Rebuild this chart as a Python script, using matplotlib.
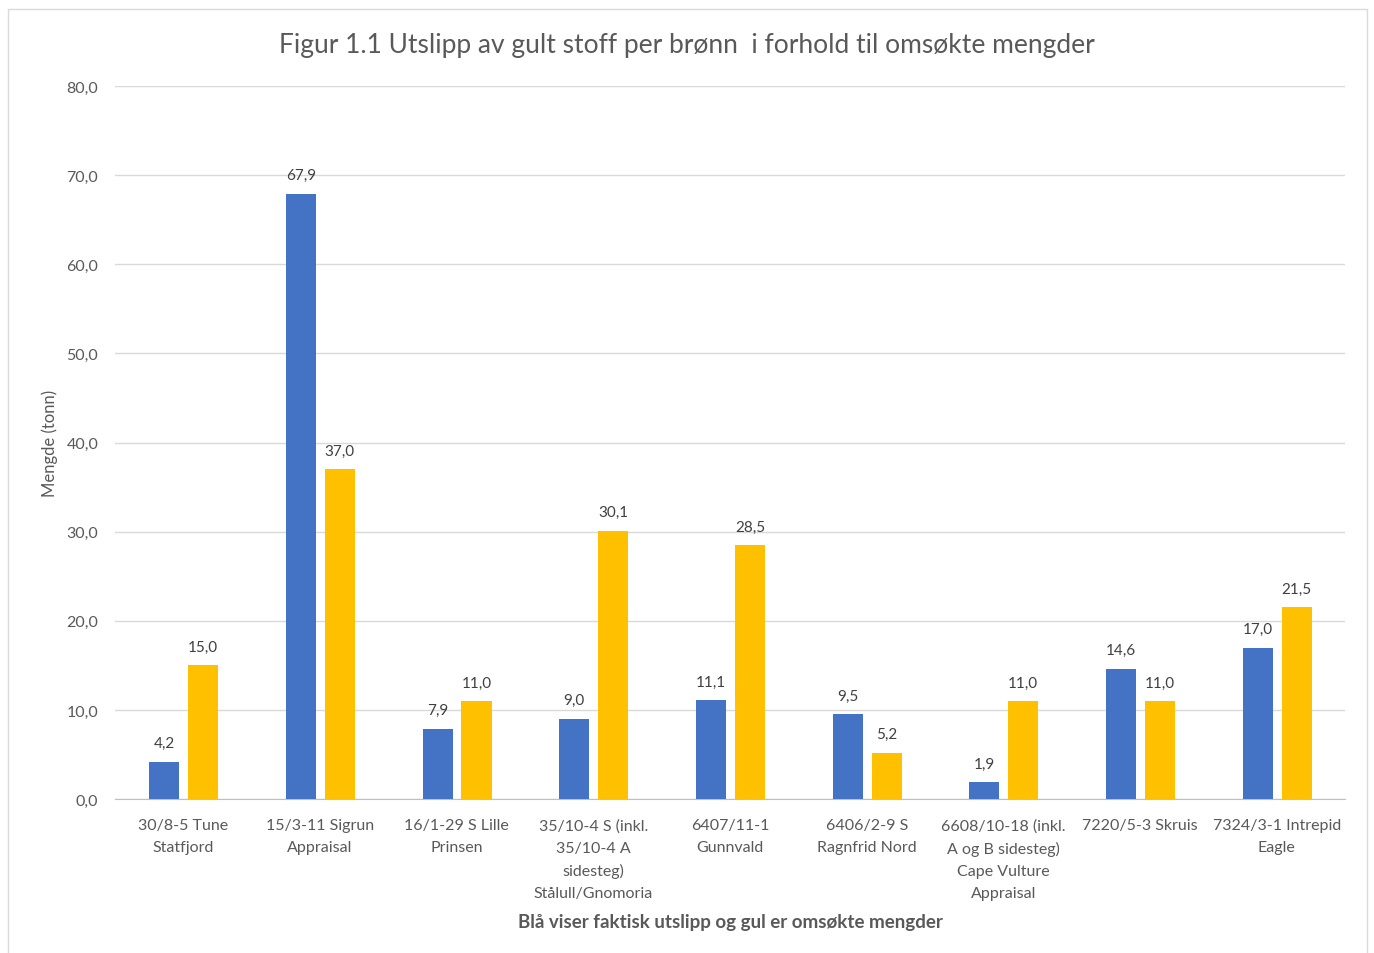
import matplotlib

matplotlib.use("Agg")
import matplotlib.pyplot as plt  # noqa: E402
import numpy as np  # noqa: E402

plt.rcParams["font.family"] = ["Lato", "DejaVu Sans"]

# data
wells = [
    "30/8-5 Tune\nStatfjord",
    "15/3-11 Sigrun\nAppraisal",
    "16/1-29 S Lille\nPrinsen",
    "35/10-4 S (inkl.\n35/10-4 A\nsidesteg)\nStålull/Gnomoria",
    "6407/11-1\nGunnvald",
    "6406/2-9 S\nRagnfrid Nord",
    "6608/10-18 (inkl.\nA og B sidesteg)\nCape Vulture\nAppraisal",
    "7220/5-3 Skruis",
    "7324/3-1 Intrepid\nEagle",
]
actual = [4.2, 67.9, 7.9, 9.0, 11.1, 9.5, 1.9, 14.6, 17.0]
applied = [15.0, 37.0, 11.0, 30.1, 28.5, 5.2, 11.0, 11.0, 21.5]
yticks = [0, 10, 20, 30, 40, 50, 60, 70, 80]

BLUE = "#4472C4"
YELLOW = "#FFC000"
GREY = "#595959"

fig = plt.figure(figsize=(13.74, 9.54), dpi=100)
ax = fig.add_axes([0.0837, 0.1614, 0.8953, 0.7474])

x = np.arange(len(wells))
w = 0.22
b1 = ax.bar(x - 0.14, actual, w, color=BLUE, zorder=3)
b2 = ax.bar(x + 0.145, applied, w, color=YELLOW, zorder=3)

for bars, vals in ((b1, actual), (b2, applied)):
    for r, v in zip(bars, vals):
        ax.text(r.get_x() + r.get_width() / 2, v + 1.3, f"{v:.1f}".replace(".", ","),
                ha="center", va="bottom", fontsize=11, color="#404040")

ax.set_xlim(-0.5, len(wells) - 0.5)
ax.set_ylim(0, 80)
ax.set_yticks(yticks, [f"{t:.1f}".replace(".", ",") for t in yticks])
ax.set_xticks(x, wells, fontsize=11.5, color=GREY, linespacing=1.7)
ax.tick_params(axis="y", labelsize=11.5, labelcolor=GREY, length=0, pad=12)
ax.tick_params(axis="x", length=0, pad=14)
ax.grid(axis="y", color="#D9D9D9", lw=1, zorder=0)
for s in ("top", "right", "left"):
    ax.spines[s].set_visible(False)
ax.spines["bottom"].set_color("#BFBFBF")

ax.set_ylabel("Mengde (tonn)", fontsize=12, color=GREY, labelpad=6)
fig.text(0.5314, 0.0325, "Blå viser faktisk utslipp og gul er omsøkte mengder",
         ha="center", va="center", fontsize=13.5, fontweight="bold", color=GREY)
fig.text(0.5, 0.952, "Figur 1.1 Utslipp av gult stoff per brønn  i forhold til omsøkte mengder",
         ha="center", va="center", fontsize=19, color=GREY)

# chart border
fig.patches.append(plt.Rectangle((0.006, -0.01), 0.989, 0.999, transform=fig.transFigure,
                                 fill=False, ec="#D9D9D9", lw=1))

fig.savefig("out.png", dpi=100)
